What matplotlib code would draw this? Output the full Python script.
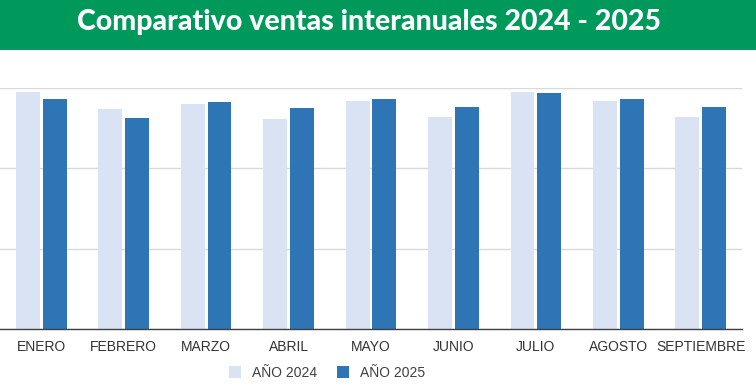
import matplotlib
matplotlib.use("Agg")
import matplotlib.pyplot as plt
import numpy as np
from matplotlib.patches import Rectangle

months = ["ENERO", "FEBRERO", "MARZO", "ABRIL", "MAYO", "JUNIO", "JULIO", "AGOSTO", "SEPTIEMBRE"]
ventas_2024 = [147.5, 136.9, 140.0, 130.6, 141.9, 131.9, 147.3, 142.1, 132.1]
ventas_2025 = [143.1, 131.3, 141.4, 137.5, 143.1, 138.1, 146.7, 142.9, 138.3]
series_labels = ["AÑO 2024", "AÑO 2025"]
title = "Comparativo ventas interanuales 2024 - 2025"

c24 = "#dae3f3"
c25 = "#2e75b6"

fig = plt.figure(figsize=(7.56, 3.90), dpi=100)
W, H = 756, 390

# green banner
fig.patches.append(Rectangle((0, 1 - 50 / H), 1, 50 / H, transform=fig.transFigure,
                             facecolor="#00995c", edgecolor="none", zorder=0))
fig.text(369 / W, 1 - 22 / H, title, ha="center", va="center", color="white",
         fontsize=20.5, fontweight="black", family=["Lato", "DejaVu Sans"])

ax = fig.add_axes([0 / W, 1 - 329 / H, 742 / W, (329 - 88) / H])
x = np.arange(len(months))
w = 0.29
ax.bar(x - w / 2 - 0.017, ventas_2024, w, color=c24, label=series_labels[0], zorder=2)
ax.bar(x + w / 2 + 0.017, ventas_2025, w, color=c25, label=series_labels[1], zorder=2)
ax.set_xlim(-0.5, len(months) - 0.5)
ax.set_ylim(0, 150)
ax.set_yticks([0, 50, 100, 150])
ax.set_yticklabels([])
ax.tick_params(axis="y", length=0)
ax.tick_params(axis="x", length=0, pad=8, labelsize=10, labelcolor="#333333")
ax.set_xticks(x)
ax.set_xticklabels(months, family=["Liberation Sans", "DejaVu Sans"])
ax.grid(axis="y", color="#d9d9d9", linewidth=1, zorder=0)
ax.set_axisbelow(True)
for s in ["top", "right", "left"]:
    ax.spines[s].set_visible(False)
ax.spines["bottom"].set_color("#404040")
ax.spines["bottom"].set_linewidth(1)
ax.spines["bottom"].set_zorder(3)

leg = fig.legend(loc="center", bbox_to_anchor=(327 / W, 1 - 373 / H), ncol=2, frameon=False,
                 prop={"family": ["Liberation Sans", "DejaVu Sans"], "size": 10},
                 handlelength=0.9, handleheight=0.9, handletextpad=0.8, columnspacing=1.4)
for t in leg.get_texts():
    t.set_color("#404040")

fig.savefig("out.png", dpi=100, facecolor="white")
